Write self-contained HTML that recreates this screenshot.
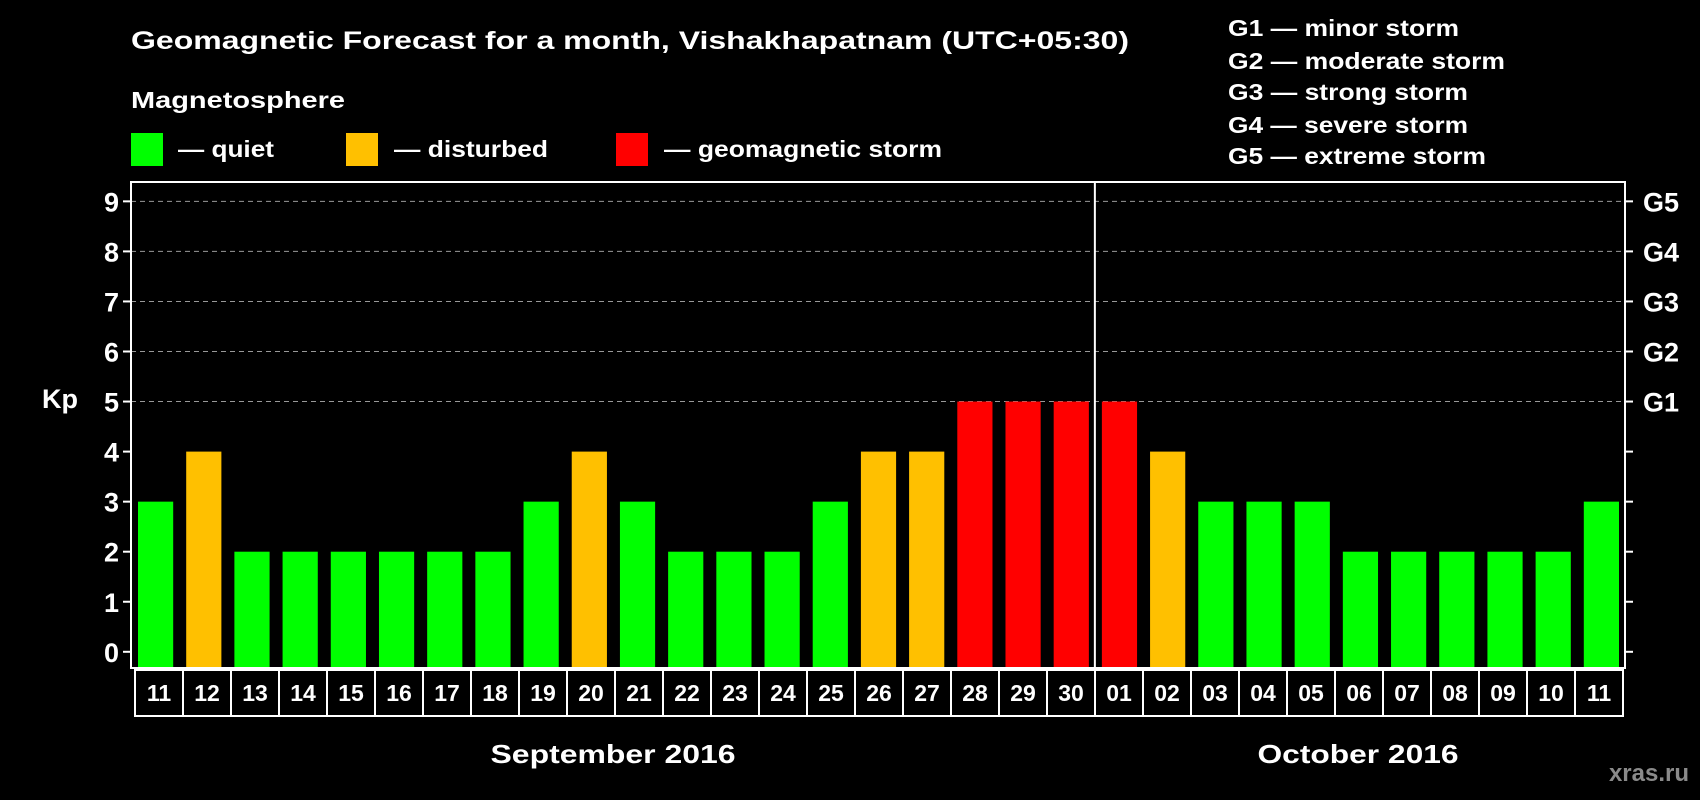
<!DOCTYPE html>
<html><head><meta charset="utf-8"><style>
html,body{margin:0;padding:0;background:#000;}
svg{display:block;font-family:"Liberation Sans",Arial,sans-serif;font-weight:bold;}
</style></head><body>
<svg id="chart" width="1700" height="800" viewBox="0 0 1700 800" xmlns="http://www.w3.org/2000/svg">
<text x="131" y="49" fill="#fff" font-size="25" textLength="998" lengthAdjust="spacingAndGlyphs">Geomagnetic Forecast for a month, Vishakhapatnam (UTC+05:30)</text>
<text x="131" y="108" fill="#fff" font-size="23" textLength="214" lengthAdjust="spacingAndGlyphs">Magnetosphere</text>
<g><rect x="131" y="133" width="32" height="33" fill="#00ff00"/><text x="178" y="157" fill="#fff" font-size="23" textLength="96" lengthAdjust="spacingAndGlyphs">— quiet</text></g>
<g><rect x="346" y="133" width="32" height="33" fill="#ffc000"/><text x="394" y="157" fill="#fff" font-size="23" textLength="154" lengthAdjust="spacingAndGlyphs">— disturbed</text></g>
<g><rect x="616" y="133" width="32" height="33" fill="#ff0000"/><text x="664" y="157" fill="#fff" font-size="23" textLength="278" lengthAdjust="spacingAndGlyphs">— geomagnetic storm</text></g>
<g fill="#fff" font-size="23">
<text x="1228" y="36" textLength="231" lengthAdjust="spacingAndGlyphs">G1 — minor storm</text>
<text x="1228" y="69" textLength="277" lengthAdjust="spacingAndGlyphs">G2 — moderate storm</text>
<text x="1228" y="100" textLength="240" lengthAdjust="spacingAndGlyphs">G3 — strong storm</text>
<text x="1228" y="133" textLength="240" lengthAdjust="spacingAndGlyphs">G4 — severe storm</text>
<text x="1228" y="164" textLength="258" lengthAdjust="spacingAndGlyphs">G5 — extreme storm</text>
</g>
<text x="42" y="408" fill="#fff" font-size="27">Kp</text>
<g id="grid"></g><g id="bars"></g><g id="axes"></g><g id="xlabels"></g>
<text x="613" y="763" text-anchor="middle" fill="#fff" font-size="26" textLength="245" lengthAdjust="spacingAndGlyphs">September 2016</text>
<text x="1358" y="763" text-anchor="middle" fill="#fff" font-size="26" textLength="201" lengthAdjust="spacingAndGlyphs">October 2016</text>
<text x="1689" y="781" text-anchor="end" fill="#8a8a8a" font-size="24">xras.ru</text>
</svg>
<script>
const days = ["11","12","13","14","15","16","17","18","19","20","21","22","23","24","25","26","27","28","29","30","01","02","03","04","05","06","07","08","09","10","11"];
const kpValues = [3,4,2,2,2,2,2,2,3,4,3,2,2,2,3,4,4,5,5,5,5,4,3,3,3,2,2,2,2,2,3];
const yTicks = [0,1,2,3,4,5,6,7,8,9];
const gLabels = ["G1","G2","G3","G4","G5"];
const monthBreak = 20;

const NS = "http://www.w3.org/2000/svg";
const L = 131, R = 1625, T = 182, B = 668;
const slot = (R - L) / days.length;
const y = v => 651.8 - v * 50.05;
const x = i => L + i * slot;
function mk(tag, attrs, parent){const e=document.createElementNS(NS,tag);for(const k in attrs)e.setAttribute(k,attrs[k]);parent.appendChild(e);return e;}
const grid=document.getElementById('grid'),bars=document.getElementById('bars'),axes=document.getElementById('axes'),xl=document.getElementById('xlabels');
function color(v){return v>=5?"#ff0000":(v>=4?"#ffc000":"#00ff00");}

yTicks.forEach(v=>{
  if(v>=5){const g=mk('line',{x1:L,x2:R,y1:y(v),y2:y(v),stroke:"#999","stroke-width":1,"stroke-dasharray":"5,4"},grid);
  
  }
  const t1=mk('line',{x1:L-8,x2:L,y1:y(v),y2:y(v),stroke:"#fff","stroke-width":2},axes);
  
  
  const t2=mk('line',{x1:R,x2:R+8,y1:y(v),y2:y(v),stroke:"#fff","stroke-width":2},axes);
  
  
  const lb=mk('text',{x:L-12,y:y(v)+10,"text-anchor":"end",fill:"#fff","font-size":27},axes);
  lb.textContent=v;
  
  
  if(v>=5){const g=mk('text',{x:R+18,y:y(v)+10,fill:"#fff","font-size":27},axes);
  g.textContent=gLabels[v-5];
  
  }
});
kpValues.forEach((v,i)=>{
  const r=mk('rect',{x:x(i)+7,y:y(v),width:slot-13,height:B-y(v),fill:color(v)},bars);
  
  
});
const frame=mk('rect',{x:L,y:T,width:R-L,height:B-T,fill:"none",stroke:"#fff","stroke-width":2},axes);


const mb=mk('line',{x1:x(monthBreak),x2:x(monthBreak),y1:T,y2:B,stroke:"#fff","stroke-width":2},axes);


const cl=135, cw=(1623-135)/days.length;
days.forEach((d,i)=>{
  const c=mk('rect',{x:cl+i*cw,y:670,width:cw,height:46,fill:"none",stroke:"#fff","stroke-width":2},xl);
  
  
  const t=mk('text',{x:cl+i*cw+cw/2,y:701,"text-anchor":"middle",fill:"#fff","font-size":23},xl);
  t.textContent=d;
  
  
});
</script>
</body></html>
